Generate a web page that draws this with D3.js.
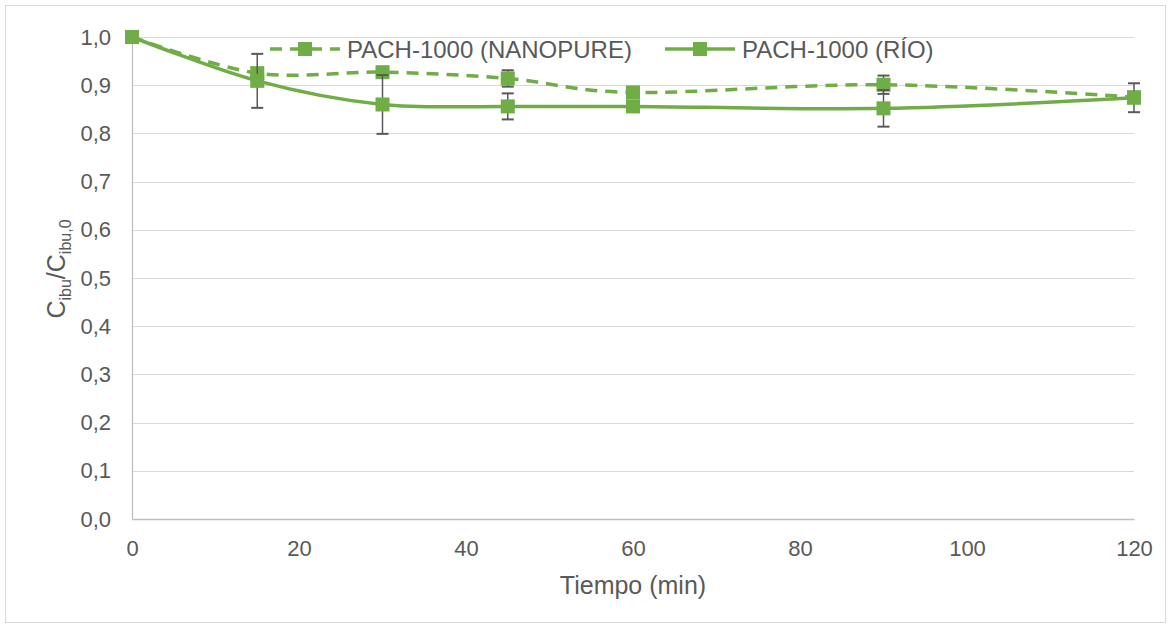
<!DOCTYPE html>
<html>
<head>
<meta charset="utf-8">
<script src="https://cdn.jsdelivr.net/npm/d3@7"></script>
<style>
  body { margin: 0; background: #fff; }
  text { font-family: "Liberation Sans", Arial, sans-serif; fill: #595959; }
</style>
</head>
<body>
<div id="chart"></div>
<script>
const FRAME_WIDTH = 1171;
const FRAME_HEIGHT = 628;
const MARGINS = {left: 132, right: 37, top: 37, bottom: 109};
const VIS_WIDTH = FRAME_WIDTH - MARGINS.left - MARGINS.right;
const VIS_HEIGHT = FRAME_HEIGHT - MARGINS.top - MARGINS.bottom;

// data
const TIMES = [0, 15, 30, 45, 60, 90, 120];
const NANOPURE = [1.0, 0.925, 0.927, 0.914, 0.885, 0.901, 0.875];
const NANOPURE_ERR = [0, 0.006, 0.006, 0.017, 0.006, 0.019, 0.006];
const RIO = [1.0, 0.909, 0.860, 0.856, 0.856, 0.852, 0.874];
const RIO_ERR = [0, 0.056, 0.061, 0.027, 0.010, 0.038, 0.030];
const X_TICKS = [0, 20, 40, 60, 80, 100, 120];
const Y_TICKS = [0, 0.1, 0.2, 0.3, 0.4, 0.5, 0.6, 0.7, 0.8, 0.9, 1.0];
const SERIES_NAMES = ["PACH-1000 (NANOPURE)", "PACH-1000 (RÍO)"];

const GREEN = "#70ad47";

const FRAME = d3.select("#chart")
  .append("svg")
    .attr("width", FRAME_WIDTH)
    .attr("height", FRAME_HEIGHT);

// outer border
FRAME.append("rect")
  .attr("x", 5.5).attr("y", 5.5)
  .attr("width", 1160).attr("height", 617)
  .attr("fill", "#fff")
  .attr("stroke", "#d9d9d9");

const X_SCALE = d3.scaleLinear().domain([0, 120]).range([0, VIS_WIDTH]);
const Y_SCALE = d3.scaleLinear().domain([0, 1]).range([VIS_HEIGHT, 0]);

const G = FRAME.append("g")
  .attr("transform", "translate(" + MARGINS.left + "," + MARGINS.top + ")");

// gridlines
G.selectAll(".grid")
  .data(Y_TICKS.slice(1))
  .enter()
  .append("line")
    .attr("x1", 0).attr("x2", VIS_WIDTH)
    .attr("y1", (d) => Math.round(Y_SCALE(d)) + 0.5)
    .attr("y2", (d) => Math.round(Y_SCALE(d)) + 0.5)
    .attr("stroke", "#d9d9d9").attr("stroke-width", 1);

// axes
const yAxis = G.append("g")
  .call(d3.axisLeft(Y_SCALE).tickValues(Y_TICKS).tickSize(0).tickPadding(21)
    .tickFormat((d) => d3.format(".1f")(d).replace(".", ",")));
yAxis.select(".domain").attr("stroke", "#bfbfbf").attr("stroke-width", 1.3);
yAxis.selectAll("text").attr("font-size", "22px").attr("fill", "#595959");

const xAxis = G.append("g")
  .attr("transform", "translate(0," + VIS_HEIGHT + ")")
  .call(d3.axisBottom(X_SCALE).tickValues(X_TICKS).tickSize(0).tickPadding(21));
xAxis.select(".domain").attr("stroke", "#bfbfbf").attr("stroke-width", 1.3);
xAxis.selectAll("text").attr("font-size", "22px").attr("fill", "#595959");

// axis titles
FRAME.append("text")
  .attr("x", MARGINS.left + VIS_WIDTH / 2)
  .attr("y", 594)
  .attr("text-anchor", "middle")
  .attr("font-size", "25px")
  .text("Tiempo (min)");

const yTitle = FRAME.append("text")
  .attr("transform", "translate(65,269) rotate(-90)")
  .attr("text-anchor", "middle")
  .attr("font-size", "25px");
yTitle.append("tspan").text("C");
yTitle.append("tspan").attr("font-size", "16px").attr("dy", 6).text("ibu");
yTitle.append("tspan").attr("dy", -6).text("/C");
yTitle.append("tspan").attr("font-size", "16px").attr("dy", 6).text("ibu,0");

// series
const line = d3.line()
  .x((d) => X_SCALE(d.t))
  .y((d) => Y_SCALE(d.v))
  .curve(d3.curveCardinal.tension(0));

const series = [
  {name: SERIES_NAMES[0], vals: NANOPURE, err: NANOPURE_ERR, dash: "12,8"},
  {name: SERIES_NAMES[1], vals: RIO, err: RIO_ERR, dash: null}
];

series.forEach((s) => {
  const pts = TIMES.map((t, i) => ({t: t, v: s.vals[i], e: s.err[i]}));

  // error bars
  const eb = G.append("g");
  pts.filter((d) => d.e > 0).forEach((d) => {
    const x = X_SCALE(d.t);
    const y1 = Y_SCALE(d.v + d.e), y2 = Y_SCALE(d.v - d.e);
    eb.append("line").attr("x1", x).attr("x2", x).attr("y1", y1).attr("y2", y2)
      .attr("stroke", "#595959").attr("stroke-width", 1.5);
    [y1, y2].forEach((y) => {
      eb.append("line").attr("x1", x - 6).attr("x2", x + 6).attr("y1", y).attr("y2", y)
        .attr("stroke", "#595959").attr("stroke-width", 2);
    });
  });

  G.append("path")
    .datum(pts)
    .attr("d", line)
    .attr("fill", "none")
    .attr("stroke", GREEN)
    .attr("stroke-width", 3.5)
    .attr("stroke-dasharray", s.dash);

  G.selectAll(null)
    .data(pts)
    .enter()
    .append("rect")
      .attr("x", (d) => X_SCALE(d.t) - 7)
      .attr("y", (d) => Y_SCALE(d.v) - 7)
      .attr("width", 14).attr("height", 14)
      .attr("fill", GREEN);
});

// legend
const LEGEND = [
  {name: SERIES_NAMES[0], x: 270, dash: "12,8"},
  {name: SERIES_NAMES[1], x: 665, dash: null}
];
LEGEND.forEach((l) => {
  const g = FRAME.append("g").attr("transform", "translate(" + l.x + ",49)");
  g.append("line").attr("x1", 0).attr("x2", 70).attr("y1", 0).attr("y2", 0)
    .attr("stroke", GREEN).attr("stroke-width", 3.5).attr("stroke-dasharray", l.dash);
  g.append("rect").attr("x", 28).attr("y", -7).attr("width", 14).attr("height", 14)
    .attr("fill", GREEN);
  g.append("text").attr("x", 77).attr("y", 8.5).attr("font-size", "24px").text(l.name);
});
</script>
</body>
</html>
